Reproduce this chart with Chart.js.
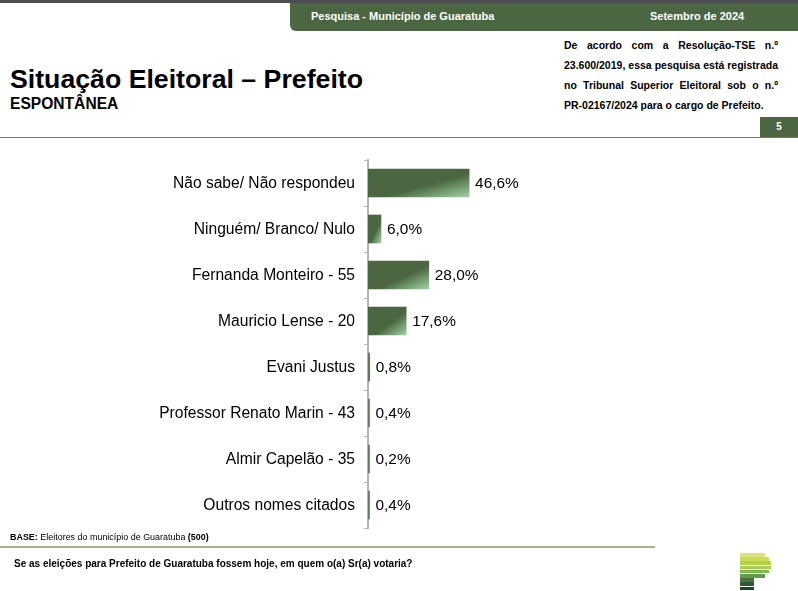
<!DOCTYPE html>
<html>
<head>
<meta charset="utf-8">
<script src="https://cdn.jsdelivr.net/npm/chart.js@4"></script>
<style>
body { margin: 0; background: #fff; font-family: "Liberation Sans", Arial, sans-serif; color: #000; overflow: hidden; }
.abs { position: absolute; white-space: nowrap; }
#top { left: 0; top: 0; width: 798px; height: 3px; background: #4b4d50; }
#band { left: 290px; top: 3px; width: 508px; height: 28px; background: #4a6741; border-bottom-left-radius: 6px; }
.bandtxt { color: #fff; font-weight: bold; font-size: 11px; top: 10px; }
#title { left: 10px; top: 64px; font-size: 26.7px; font-weight: bold; }
#sub { left: 10px; top: 95px; font-size: 15.6px; font-weight: bold; }
.note { left: 564px; width: 214px; font-size: 10.5px; font-weight: bold; text-align: justify; text-align-last: justify; white-space: normal; }
#page { left: 760px; top: 117px; width: 38px; height: 20px; background: #4a6741; color: #fff; font-size: 10px; font-weight: bold; text-align: center; line-height: 20px; }
#rule1 { left: 0; top: 137px; width: 798px; height: 1px; background: #6d7f5c; }
#chartBox { left: 0; top: 150px; width: 798px; height: 390px; }
#chart { display: block; }
#base { left: 10px; top: 532px; font-size: 8.95px; }
#rule2 { left: 0; top: 546px; width: 655px; height: 2px; background: #a3b28f; }
#question { left: 14px; top: 558px; font-size: 10px; font-weight: bold; }
.logo { position: absolute; left: 740px; height: 3.6px; }
</style>
</head>
<body>
<div class="abs" id="top"></div>
<div class="abs" id="band"></div>
<div class="abs bandtxt" style="left:311px">Pesquisa - Município de Guaratuba</div>
<div class="abs bandtxt" style="left:650px">Setembro de 2024</div>
<div class="abs" id="title">Situação Eleitoral – Prefeito</div>
<div class="abs" id="sub">ESPONTÂNEA</div>
<div class="abs note" style="top:39px">De acordo com a Resolução-TSE n.º</div>
<div class="abs note" style="top:59px">23.600/2019, essa pesquisa está registrada</div>
<div class="abs note" style="top:79px">no Tribunal Superior Eleitoral sob o n.º</div>
<div class="abs note" style="top:99px;text-align-last:left">PR-02167/2024 para o cargo de Prefeito.</div>
<div class="abs" id="page">5</div>
<div class="abs" id="rule1"></div>
<div class="abs" id="chartBox"><canvas id="chart" width="798" height="390"></canvas></div>
<div class="abs" id="base"><b>BASE:</b> Eleitores do município de Guaratuba <b>(500)</b></div>
<div class="abs" id="rule2"></div>
<div class="abs" id="question">Se as eleições para Prefeito de Guaratuba fossem hoje, em quem o(a) Sr(a) votaria?</div>
<div id="logo"></div>
<script>
const categories = [
    'Não sabe/ Não respondeu',
    'Ninguém/ Branco/ Nulo',
    'Fernanda Monteiro - 55',
    'Mauricio Lense - 20',
    'Evani Justus',
    'Professor Renato Marin - 43',
    'Almir Capelão - 35',
    'Outros nomes citados'
];
const values = [46.6, 6.0, 28.0, 17.6, 0.8, 0.4, 0.2, 0.4];

const logoWidths = [25, 29, 31, 31, 29, 25, 14, 14, 14];
const logoColors = ['#dde27e', '#c9dc5c', '#b3d141', '#a6cf58', '#82bb4d', '#5f9e48', '#4f7040', '#2f5a30', '#174a2c'];

logoWidths.forEach((w, i) => {
    const d = document.createElement('div');
    d.className = 'logo';
    d.style.top = (553 + i * 4.2) + 'px';
    d.style.width = w + 'px';
    d.style.background = logoColors[i];
    document.getElementById('logo').appendChild(d);
});

// diagonal fill, the light part only starts past the bar's anti-diagonal
function barFill(context) {
    const chart = context.chart;
    if (!chart.chartArea || context.dataIndex === undefined) return '#4a6741';
    const x0 = chart.scales.x.getPixelForValue(0);
    const x1 = chart.scales.x.getPixelForValue(values[context.dataIndex]);
    const yc = chart.scales.y.getPixelForValue(context.dataIndex);
    const w = x1 - x0, h = 28;
    if (w < 3) return '#5f7d5a';
    const t = 2 * w * h / (w * w + h * h);
    const g = chart.ctx.createLinearGradient(x0, yc - h / 2, x0 + t * h, yc - h / 2 + t * w);
    g.addColorStop(0, '#4a6741');
    g.addColorStop(0.58, '#4a6741');
    g.addColorStop(1, '#a0d2a2');
    return g;
}

// category names and percentages, both sit a little below the band centre
const textLabels = {
    id: 'textLabels',
    afterDatasetsDraw(chart) {
        const ctx = chart.ctx;
        const yScale = chart.scales.y;
        ctx.save();
        ctx.fillStyle = '#000';
        ctx.textBaseline = 'middle';
        ctx.font = '15.6px "Liberation Sans", Arial, sans-serif';
        ctx.textAlign = 'right';
        categories.forEach((name, i) => {
            ctx.fillText(name, yScale.right - 13, yScale.getPixelForTick(i) + 1);
        });
        ctx.font = '15.4px "Liberation Sans", Arial, sans-serif';
        ctx.textAlign = 'left';
        chart.getDatasetMeta(0).data.forEach((bar, i) => {
            ctx.fillText(values[i].toFixed(1).replace('.', ',') + '%', bar.x + 6, bar.y + 1);
        });
        ctx.restore();
    }
};

new Chart(document.getElementById('chart'), {
    type: 'bar',
    data: {
        labels: categories,
        datasets: [{
            data: values,
            backgroundColor: barFill,
            barThickness: 28,
            minBarLength: 1.5
        }]
    },
    options: {
        indexAxis: 'y',
        responsive: false,
        animation: false,
        devicePixelRatio: 1,
        layout: { padding: { top: 10, bottom: 12, right: 213 } },
        plugins: { legend: { display: false }, tooltip: { enabled: false } },
        scales: {
            x: { display: false, min: 0, max: 100 },
            y: {
                // fixed axis box, no extra room for half a tick label
                afterFit(scale) {
                    scale.width = 368;
                    scale.paddingTop = 0;
                    scale.paddingBottom = 0;
                },
                border: { color: '#b5b5b5', width: 2 },
                grid: { drawOnChartArea: false, tickLength: 4, tickColor: '#b5b5b5', tickWidth: 1 },
                ticks: { display: false, autoSkip: false }
            }
        }
    },
    plugins: [textLabels]
});
</script>
</body>
</html>
